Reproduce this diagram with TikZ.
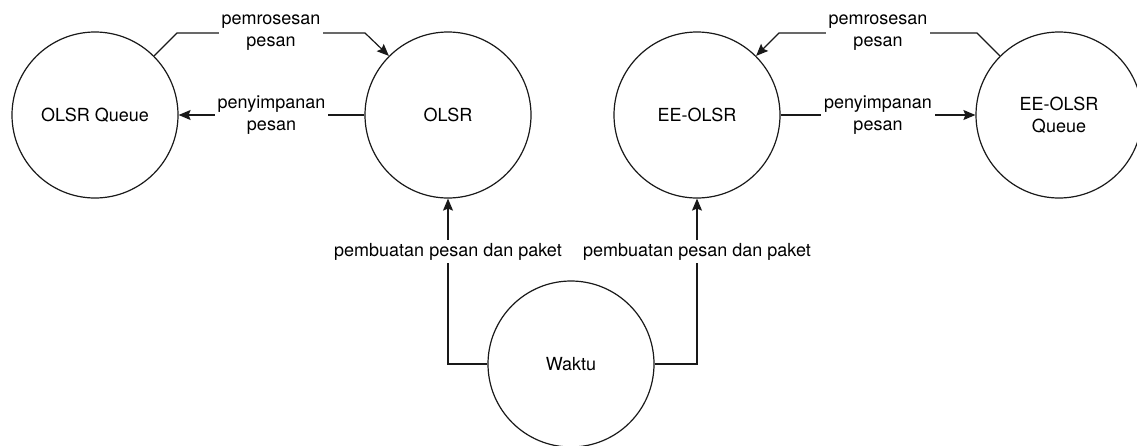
\documentclass[tikz,border=0pt]{standalone}
\usepackage{fontspec}
\setmainfont{TeX Gyre Heros}
\usetikzlibrary{positioning, arrows.meta}
\tikzset{%
  proc/.style={
    circle,
    draw,
    minimum size=166pt,
    inner sep=0pt,
    align=center
  },
  lbl/.style={
    fill=white,
    align=center,
    inner sep=3pt
  }
}
\definecolor{linegray}{rgb}{0.1, 0.1, 0.1}

\begin{document}
\begin{tikzpicture}[x=1pt, y=-1pt, line width=1.2pt, draw=linegray,
    font=\fontsize{18}{22}\selectfont,
    >={Stealth[length=12pt, width=10pt, inset=2pt]}]
		\useasboundingbox (0,0) rectangle (1137,445);
		% processes
		\node[proc] (olsrq) at (95,115) {OLSR Queue};
		\node[proc] (olsr) at (448,115) {OLSR};
		\node[proc] (eeolsr) at (697,115) {EE-OLSR};
		\node[proc] (eeolsrq) at (1059,115) {EE-OLSR\\Queue};
		\node[proc] (waktu) at (571,364) {Waktu};
		% bends
		\coordinate (b0) at (177,33);
		\coordinate (b1) at (365,33);
		\coordinate (b2) at (779,33);
		\coordinate (b3) at (977,33);
		% OLSR side
		\draw[->] (olsrq.north east) -- (b0) -- node[lbl] {pemrosesan\\pesan} (b1) -- (olsr.north west);
		\draw[->] (olsr) -- node[lbl] {penyimpanan\\pesan} (olsrq);
		% EE-OLSR side
		\draw[->] (eeolsrq.north west) -- (b3) -- node[lbl] {pemrosesan\\pesan} (b2) -- (eeolsr.north east);
		\draw[->] (eeolsr) -- node[lbl] {penyimpanan\\pesan} (eeolsrq);
		% time
		\draw[->] (waktu.west) -| node[lbl, pos=0.84] {pembuatan pesan dan paket} (olsr.south);
		\draw[->] (waktu.east) -| node[lbl, pos=0.84] {pembuatan pesan dan paket} (eeolsr.south);
	\end{tikzpicture}
\end{document}
